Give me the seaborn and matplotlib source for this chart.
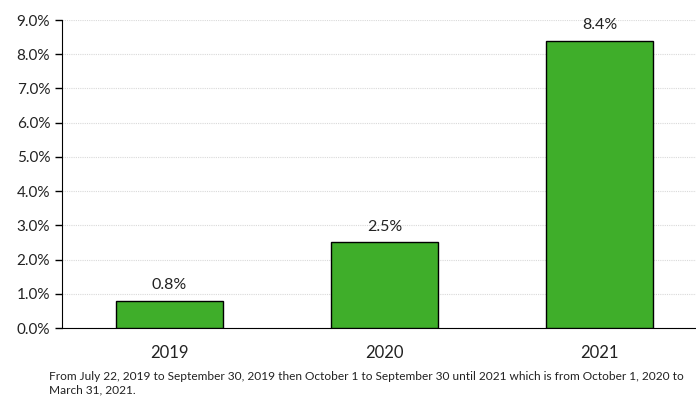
import pandas as pd
import seaborn as sns
import matplotlib.pyplot as plt
from matplotlib.ticker import PercentFormatter

# data
years = ["2019", "2020", "2021"]
rates = [0.8, 2.5, 8.4]
labels = ["0.8%", "2.5%", "8.4%"]
note = ("From July 22, 2019 to September 30, 2019 then October 1 to September 30 until 2021 which is from October 1, 2020 to\n"
        "March 31, 2021.")

df = pd.DataFrame({"year": years, "rate": rates})

sns.set_style("white")
plt.rcParams['font.family'] = ['Lato', 'DejaVu Sans']

fig = plt.figure(figsize=(6.96, 4), dpi=100)
# plot area runs a little past the right edge of the picture
ax = fig.add_axes([0.089, 0.18, 0.927, 0.77])

sns.barplot(data=df, x="year", y="rate", color="#3fae2a", saturation=1,
            width=0.5, edgecolor="black", linewidth=1, ax=ax, zorder=3)

for i, lab in enumerate(labels):
    ax.text(i, rates[i] + 0.25, lab, ha="center", va="bottom", fontsize=11.5, color="#222222")

ax.set_ylim(0, 9)
ax.set_yticks([0, 1, 2, 3, 4, 5, 6, 7, 8, 9])
ax.yaxis.set_major_formatter(PercentFormatter(decimals=1))
ax.grid(axis="y", color="#d9d9d9", linewidth=0.8, linestyle=(0, (1, 1)), zorder=0)
ax.set_axisbelow(True)

ax.set_xlabel("")
ax.set_ylabel("")
for s in ["top", "right"]:
    ax.spines[s].set_visible(False)
ax.spines["left"].set_color("black")
ax.spines["bottom"].set_color("black")
ax.tick_params(axis="y", length=5, width=1, color="black", labelsize=11, labelcolor="#222222", left=True)
ax.tick_params(axis="x", length=0, labelsize=12, labelcolor="#222222", pad=12)

fig.text(49 / 696, 1 - 371 / 400, note, fontsize=8.6, va="top", ha="left", color="#222222", linespacing=1.25)

fig.savefig("out.png", dpi=100)
